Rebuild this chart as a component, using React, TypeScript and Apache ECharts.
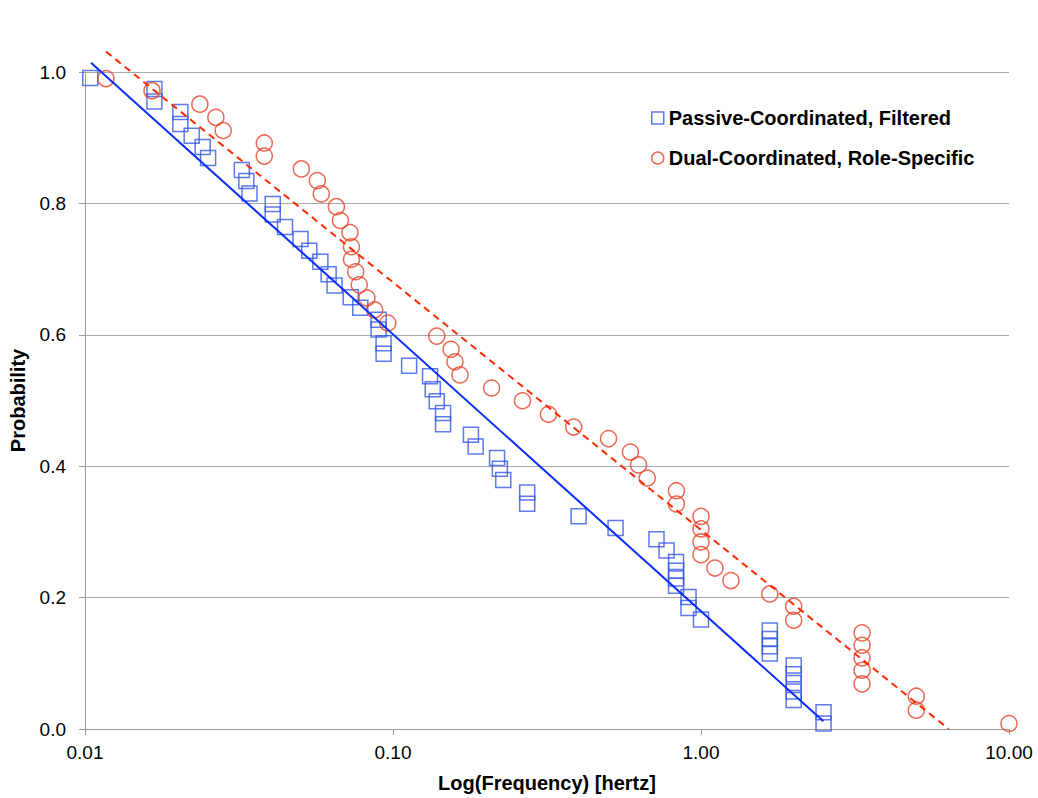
import React, { useEffect, useRef } from "react";
import * as echarts from "echarts";

const xTickLabels = ["0.01", "0.10", "1.00", "10.00"];
const yTickLabels = ["0.0", "0.2", "0.4", "0.6", "0.8", "1.0"];

const blueName = "Passive-Coordinated, Filtered";
const redName = "Dual-Coordinated, Role-Specific";

// Passive-Coordinated, Filtered: [frequency (Hz), probability]
const passiveFiltered: number[][] = [
  [0.0104, 0.991], [0.0168, 0.974], [0.0168, 0.955], [0.0204, 0.939], [0.0204, 0.921],
  [0.0222, 0.903], [0.0241, 0.886], [0.0251, 0.869], [0.0323, 0.851], [0.0334, 0.834],
  [0.0342, 0.815], [0.0407, 0.799], [0.0407, 0.783], [0.0446, 0.764], [0.0501, 0.746],
  [0.0535, 0.728], [0.0581, 0.711], [0.0618, 0.692], [0.0646, 0.675], [0.0729, 0.657],
  [0.0783, 0.641], [0.0898, 0.623], [0.0898, 0.608], [0.0932, 0.587], [0.0932, 0.571],
  [0.1128, 0.553], [0.1319, 0.537], [0.1346, 0.517], [0.1387, 0.499], [0.1454, 0.481],
  [0.1454, 0.464], [0.1791, 0.448], [0.1855, 0.43], [0.2177, 0.4125], [0.2223, 0.396],
  [0.228, 0.379], [0.2727, 0.36], [0.2727, 0.343], [0.4005, 0.324], [0.528, 0.306],
  [0.717, 0.289], [0.773, 0.2715], [0.83, 0.254], [0.83, 0.241], [0.83, 0.229],
  [0.83, 0.218], [0.911, 0.201], [0.911, 0.184], [1.0, 0.1665], [1.673, 0.15],
  [1.673, 0.137], [1.673, 0.126], [1.673, 0.115], [2.0, 0.0966], [2.0, 0.0833],
  [2.0, 0.07], [2.0, 0.057], [2.0, 0.044], [2.5, 0.0256], [2.5, 0.0084],
];

// Dual-Coordinated, Role-Specific: [frequency (Hz), probability]
const dualRoleSpecific: number[][] = [
  [0.0117, 0.99], [0.0165, 0.9716], [0.0236, 0.951], [0.0266, 0.931], [0.0281, 0.911],
  [0.0382, 0.892], [0.0382, 0.872], [0.0504, 0.8525], [0.0568, 0.8347], [0.0585, 0.8144],
  [0.0655, 0.795], [0.0675, 0.774], [0.0725, 0.7556], [0.0733, 0.734], [0.0733, 0.715],
  [0.0757, 0.696], [0.0777, 0.676], [0.0823, 0.656], [0.0872, 0.638], [0.0962, 0.618],
  [0.1387, 0.598], [0.1543, 0.578], [0.1589, 0.559], [0.165, 0.539], [0.209, 0.519],
  [0.2633, 0.4996], [0.3197, 0.479], [0.386, 0.4596], [0.501, 0.442], [0.59, 0.4216],
  [0.627, 0.402], [0.669, 0.382], [0.832, 0.3627], [0.832, 0.3425], [1.0, 0.3236],
  [1.0, 0.3045], [1.0, 0.2847], [1.0, 0.2654], [1.11, 0.245], [1.251, 0.2259],
  [1.673, 0.2056], [2.0, 0.1868], [2.0, 0.1655], [3.334, 0.1463], [3.334, 0.1275],
  [3.334, 0.1083], [3.334, 0.0894], [3.334, 0.0687], [5.0, 0.0499], [5.0, 0.0286],
  [10.0, 0.0084],
];

// Trend line end points
const passiveTrend: number[][] = [[0.01046, 1.014], [2.496, 0.0119]];
const dualTrend: number[][] = [[0.0117, 1.031], [6.37, 0.0]];

const FONT = "'Liberation Sans', Arial, Helvetica, sans-serif";
const BLUE_MARK = "#3558e6";
const RED_MARK = "#e6432b";
const BLUE_LINE = "#0a2cff";
const RED_LINE = "#ff2a00";

export default function App() {
  const ref = useRef<HTMLDivElement>(null);
  useEffect(() => {
    if (!ref.current) return;
    const chart = echarts.init(ref.current, undefined, { renderer: "svg" });
    chart.setOption({
      animation: false,
      backgroundColor: "#ffffff",
      grid: { left: 82, right: 29, top: 72, bottom: 68, containLabel: false },
      legend: {
        orient: "vertical",
        left: 646,
        top: 103,
        itemWidth: 12,
        itemHeight: 12,
        itemGap: 20,
        textStyle: { fontFamily: FONT, fontWeight: "bold", fontSize: 20, color: "#000" },
        data: [
          { name: blueName, icon: "rect", itemStyle: { color: "rgba(0,0,0,0)", borderColor: BLUE_MARK, borderWidth: 1.5 } },
          { name: redName, icon: "circle", itemStyle: { color: "rgba(0,0,0,0)", borderColor: RED_MARK, borderWidth: 1.5 } },
        ],
      },
      xAxis: {
        type: "log",
        logBase: 10,
        min: 0.01,
        max: 10,
        name: "Log(Frequency) [hertz]",
        nameLocation: "middle",
        nameGap: 44,
        nameTextStyle: { fontFamily: FONT, fontWeight: "bold", fontSize: 20, color: "#000" },
        axisLine: { show: true, lineStyle: { color: "#9a9a9a", width: 1 } },
        axisTick: { show: true, length: 6, lineStyle: { color: "#9a9a9a" } },
        minorTick: { show: false },
        splitLine: { show: false },
        axisLabel: {
          fontFamily: FONT,
          fontSize: 19,
          color: "#000",
          margin: 14,
          formatter: (v: number) => {
            const i = Math.round(Math.log10(v) + 2);
            return xTickLabels[i] ?? "";
          },
        },
      },
      yAxis: {
        type: "value",
        min: 0,
        max: 1,
        interval: 0.2,
        name: "Probability",
        nameLocation: "middle",
        nameGap: 57,
        nameRotate: 90,
        nameTextStyle: { fontFamily: FONT, fontWeight: "bold", fontSize: 20, color: "#000" },
        axisLine: { show: true, lineStyle: { color: "#9a9a9a", width: 1 } },
        axisTick: { show: true, length: 6, lineStyle: { color: "#9a9a9a" } },
        splitLine: { show: true, lineStyle: { color: "#a8a8a8", width: 1 } },
        axisLabel: {
          fontFamily: FONT,
          fontSize: 19,
          color: "#000",
          margin: 19,
          formatter: (v: number) => yTickLabels[Math.round(v / 0.2)] ?? "",
        },
      },
      series: [
        {
          name: blueName,
          type: "scatter",
          symbol: "rect",
          symbolSize: 15,
          clip: false,
          itemStyle: { color: "rgba(0,0,0,0)", borderColor: BLUE_MARK, borderWidth: 1.5 },
          data: passiveFiltered,
          z: 3,
        },
        {
          name: redName,
          type: "scatter",
          symbol: "circle",
          symbolSize: 16,
          clip: false,
          itemStyle: { color: "rgba(0,0,0,0)", borderColor: RED_MARK, borderWidth: 1.5 },
          data: dualRoleSpecific,
          z: 3,
        },
        {
          name: "Passive trend",
          type: "line",
          showSymbol: false,
          symbol: "none",
          clip: false,
          lineStyle: { color: BLUE_LINE, width: 2 },
          data: passiveTrend,
          z: 4,
        },
        {
          name: "Dual trend",
          type: "line",
          showSymbol: false,
          symbol: "none",
          clip: false,
          lineStyle: { color: RED_LINE, width: 2, type: [7, 5] },
          data: dualTrend,
          z: 4,
        },
      ],
    });
    return () => chart.dispose();
  }, []);
  return (
    <div
      ref={ref}
      style={{ position: "absolute", left: 0, top: 0, width: 1038, height: 798, background: "#fff" }}
    />
  );
}
